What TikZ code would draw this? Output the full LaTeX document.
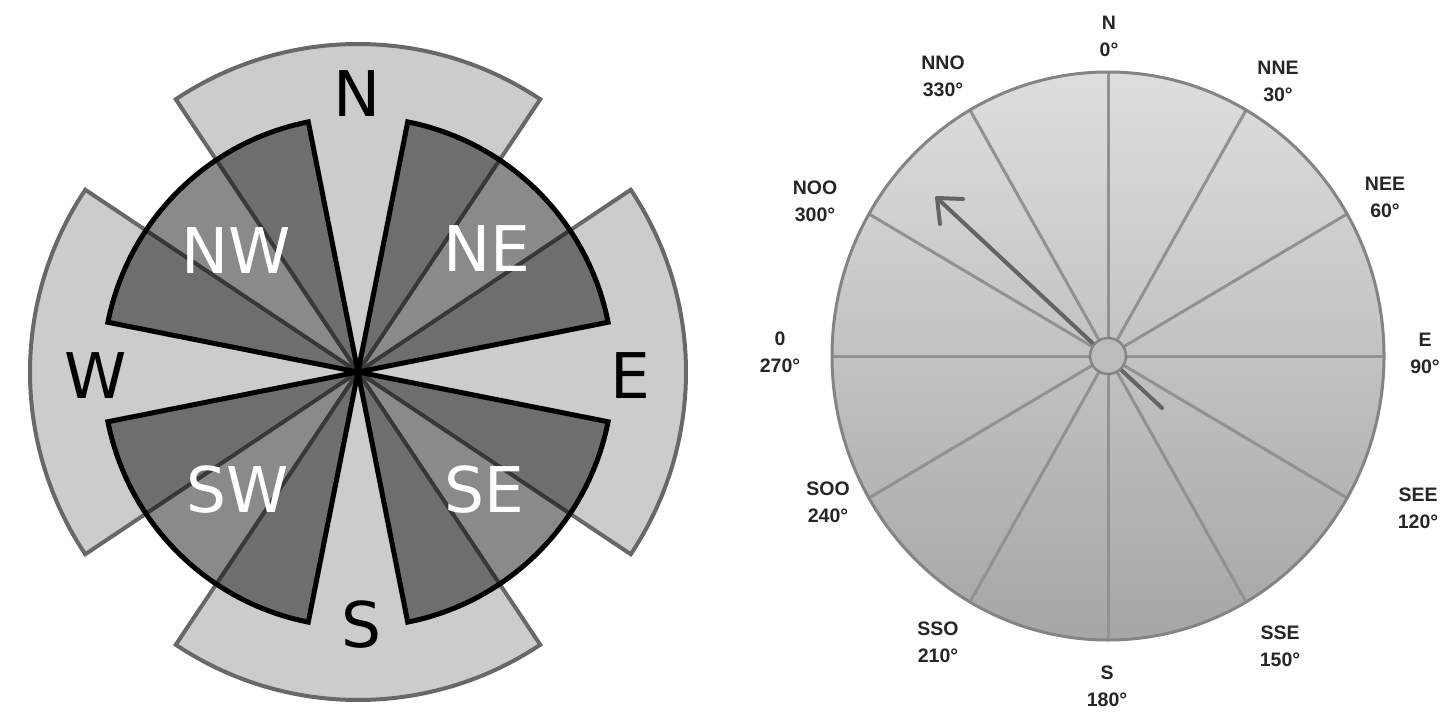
\documentclass[tikz,border=0pt]{standalone}
\usepackage{fontspec}
\newfontfamily\lfont{DejaVu Sans}
\newfontfamily\rfont{Liberation Sans}
\definecolor{lightfill}{RGB}{204,204,204}
\definecolor{lightedge}{RGB}{104,104,104}
\definecolor{rtop}{RGB}{222,222,222}
\definecolor{rbot}{RGB}{166,166,166}
\definecolor{rimcol}{RGB}{132,132,132}
\definecolor{spokecol}{RGB}{145,145,145}
\definecolor{arrowcol}{RGB}{100,100,100}
\definecolor{labcol}{RGB}{38,38,38}
\tikzset{
  lightsec/.style={fill=lightfill, draw=lightedge, line width=4pt},
  darksec/.style={fill=black, fill opacity=0.46, draw=black, draw opacity=1, line width=5pt},
  biglab/.style={font=\lfont\fontsize{63}{63}\selectfont, inner sep=0pt, anchor=center},
  smalllab/.style={font=\rfont\bfseries\fontsize{19.5}{27}\selectfont, text=labcol, align=center, inner sep=0pt},
  spoke/.style={draw=spokecol, line width=3pt},
  rim/.style={draw=rimcol, line width=3pt},
  hub/.style={fill=rbot!60!rtop, draw=rimcol, line width=2.5pt},
  windarrow/.style={draw=arrowcol, line width=4pt, line cap=round, line join=round}
}
\begin{document}
\begin{tikzpicture}[x=1pt,y=-1pt]
\useasboundingbox (0,0) rectangle (1455,722);
\fill[white] (0,0) rectangle (1455,722);
% ---------- left compass rose ----------
\coordinate (L) at (358,372);
\foreach \b in {0,90,180,270}{
  \draw[lightsec] (L) -- ++({\b-90-33.75}:328)
    arc[start angle={\b-90-33.75}, end angle={\b-90+33.75}, radius=328] -- cycle;
}
\foreach \b in {45,135,225,315}{
  \draw[darksec] (L) -- ++({\b-90-33.75}:255)
    arc[start angle={\b-90-33.75}, end angle={\b-90+33.75}, radius=255] -- cycle;
}
\node[biglab] (lN) at (357,94) {N};
\node[biglab] (lW) at (96,376) {W};
\node[biglab] (lE) at (630,376) {E};
\node[biglab] (lS) at (361,625) {S};
\node[biglab, text=white] (lNW) at (236,251) {NW};
\node[biglab, text=white] (lNE) at (487,249) {NE};
\node[biglab, text=white] (lSW) at (238,490) {SW};
\node[biglab, text=white] (lSE) at (484,490) {SE};
% ---------- right wind dial ----------
\coordinate (R) at (1108,356);
\shade[top color=rtop, bottom color=rbot] (R) ellipse[x radius=276, y radius=284];
\foreach \b in {0,30,...,330}{
  \draw[spoke] (R) -- ({1108+276*sin(\b)},{356-284*cos(\b)});
}
\draw[rim] (R) ellipse[x radius=276, y radius=284];
\coordinate (tail) at (1162,408);
\coordinate (tip) at (937,198);
\coordinate (barbA) at (963,199);
\coordinate (barbB) at (940,224);
\draw[windarrow] (tail) -- (tip);
\draw[windarrow] (barbA) -- (tip) -- (barbB);
\draw[hub] (R) circle[radius=18];
\node[smalllab] (r0) at (1109,36) {N\\0°};
\node[smalllab] (r30) at (1278,81) {NNE\\30°};
\node[smalllab] (r60) at (1385,197) {NEE\\60°};
\node[smalllab] (r90) at (1425,353) {E\\90°};
\node[smalllab] (r120) at (1418,508) {SEE\\120°};
\node[smalllab] (r150) at (1280,646) {SSE\\150°};
\node[smalllab] (r180) at (1107,686) {S\\180°};
\node[smalllab] (r210) at (938,642) {SSO\\210°};
\node[smalllab] (r240) at (828,502) {SOO\\240°};
\node[smalllab] (r270) at (780,352) {0\\270°};
\node[smalllab] (r300) at (815,201) {NOO\\300°};
\node[smalllab] (r330) at (943,76) {NNO\\330°};
\end{tikzpicture}
\end{document}
